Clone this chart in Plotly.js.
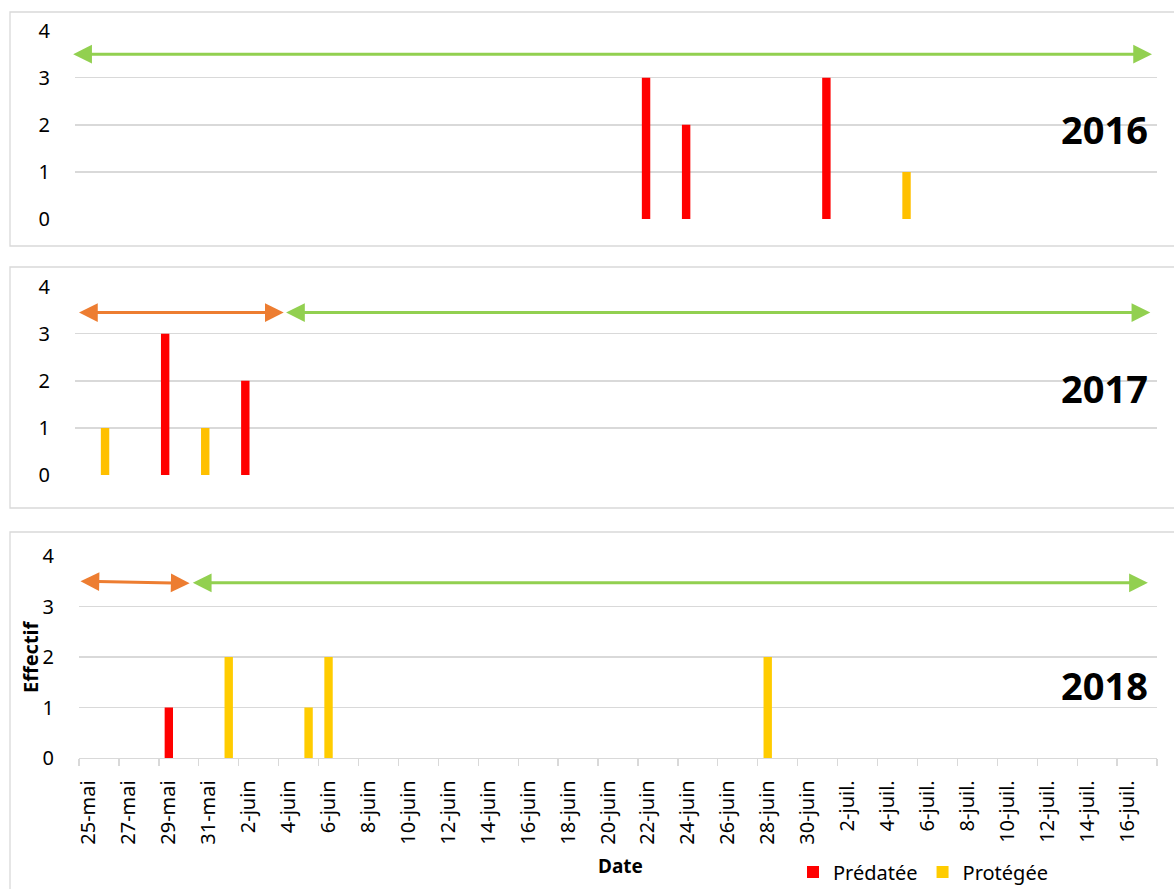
<!DOCTYPE html>
<html><head><meta charset="utf-8">
<script src="https://cdn.plot.ly/plotly-3.0.1.min.js"></script>
<style>html,body{margin:0;padding:0;background:#fff}#chart{width:1174px;height:889px}</style>
</head><body><div id="chart"></div>
<script>
// ---------- data ----------
const years = ['2016','2017','2018'];
const axisStart = ['2016-05-25','2017-05-25','2018-05-25'];
const axisEnd   = ['2016-07-18','2017-07-18','2018-07-18'];

const predDates2016 = ['2016-06-22','2016-06-24','2016-07-01'];
const predVals2016  = [3, 2, 3];
const protDates2016 = ['2016-07-05'];
const protVals2016  = [1];

const predDates2017 = ['2017-05-29','2017-06-02'];
const predVals2017  = [3, 2];
const protDates2017 = ['2017-05-26','2017-05-31'];
const protVals2017  = [1, 1];

const predDates2018 = ['2018-05-29'];
const predVals2018  = [1];
const protDates2018 = ['2018-06-01','2018-06-05','2018-06-06','2018-06-28'];
const protVals2018  = [2, 1, 2, 2];

const seriesNames = ['Prédatée','Protégée'];

// periods shown by the double arrows (phase A = orange, phase B = green)
const periodStarts2016 = ['2016-05-24 20:00'];
const periodEnds2016   = ['2016-07-17 18:00'];
const periodPhases2016 = ['B'];
const periodStarts2017 = ['2017-05-25 03:00','2017-06-04 11:00'];
const periodEnds2017   = ['2017-06-04 10:00','2017-07-17 16:00'];
const periodPhases2017 = ['A','B'];
const periodStarts2018 = ['2018-05-25 00:00','2018-05-30 15:00'];
const periodEnds2018   = ['2018-05-30 13:00','2018-07-17 13:00'];
const periodPhases2018 = ['A','B'];

const tickDates = ['2018-05-25','2018-05-27','2018-05-29','2018-05-31','2018-06-02','2018-06-04',
  '2018-06-06','2018-06-08','2018-06-10','2018-06-12','2018-06-14','2018-06-16','2018-06-18',
  '2018-06-20','2018-06-22','2018-06-24','2018-06-26','2018-06-28','2018-06-30','2018-07-02',
  '2018-07-04','2018-07-06','2018-07-08','2018-07-10','2018-07-12','2018-07-14','2018-07-16'];
const tickLabels = ['25-mai','27-mai','29-mai','31-mai','2-juin','4-juin','6-juin','8-juin',
  '10-juin','12-juin','14-juin','16-juin','18-juin','20-juin','22-juin','24-juin','26-juin',
  '28-juin','30-juin','2-juil.','4-juil.','6-juil.','8-juil.','10-juil.','12-juil.','14-juil.','16-juil.'];

// ---------- styling / layout ----------
const W = 1174, H = 889;
const px = x => x / W;
const py = y => 1 - y / H;
const FONT = 'Noto Sans, Open Sans, sans-serif';
const DAY = 86400000;
const RED = '#FF0000';
const YEL_TOP = '#FFC000';
const YEL_BOT = '#FFCC00';
const GRID = '#D9D9D9';
const phaseColor = {A: '#ED7D31', B: '#92D050'};

function bar(x, y, name, color, xa, ya, showlegend) {
  return {type: 'bar', x: x, y: y, name: name, xaxis: xa, yaxis: ya,
    marker: {color: color}, width: 0.42 * DAY, xperiod: DAY, xperiodalignment: 'middle',
    showlegend: showlegend, legendgroup: name, hoverinfo: 'x+y+name'};
}

const data = [
  bar(predDates2016, predVals2016, seriesNames[0], RED, 'x', 'y', false),
  bar(protDates2016, protVals2016, seriesNames[1], YEL_TOP, 'x', 'y', false),
  bar(predDates2017, predVals2017, seriesNames[0], RED, 'x2', 'y2', false),
  bar(protDates2017, protVals2017, seriesNames[1], YEL_TOP, 'x2', 'y2', false),
  bar(predDates2018, predVals2018, seriesNames[0], RED, 'x3', 'y3', true),
  bar(protDates2018, protVals2018, seriesNames[1], YEL_BOT, 'x3', 'y3', true)
];

function yax(y0, y4) {
  return {domain: [py(y0), py(y4)], range: [0, 4], dtick: 1, tick0: 0,
    showgrid: true, gridcolor: GRID, gridwidth: 1.3, zeroline: false, showline: false,
    ticks: 'outside', ticklen: 20, tickcolor: 'rgba(0,0,0,0)',
    tickfont: {family: FONT, size: 20, color: '#000'}, fixedrange: true};
}
function xaxHidden(i, x0) {
  return {type: 'date', domain: [px(x0), px(1157)], range: [axisStart[i], axisEnd[i]],
    showgrid: false, zeroline: false, showline: false, showticklabels: false, ticks: '',
    fixedrange: true};
}

const annotations = [];
function arrows(starts, ends, phases, xa, ya, lvlStart, lvlEnd) {
  for (let i = 0; i < starts.length; i++) {
    annotations.push({xref: xa, yref: ya, axref: xa, ayref: ya,
      x: ends[i], y: lvlEnd[i], ax: starts[i], ay: lvlStart[i], text: '',
      showarrow: true, arrowside: 'end+start', arrowhead: 2, startarrowhead: 2,
      arrowsize: 1.25, startarrowsize: 1.25, arrowwidth: 3, arrowcolor: phaseColor[phases[i]],
      standoff: 0, startstandoff: 0});
  }
}
arrows(periodStarts2016, periodEnds2016, periodPhases2016, 'x', 'y', [3.5], [3.5]);
arrows(periodStarts2017, periodEnds2017, periodPhases2017, 'x2', 'y2', [3.45, 3.45], [3.45, 3.45]);
arrows(periodStarts2018, periodEnds2018, periodPhases2018, 'x3', 'y3', [3.5, 3.47], [3.46, 3.47]);

const yearPos = [129, 388, 685];
years.forEach((yr, i) => annotations.push({xref: 'paper', yref: 'paper', x: px(1150), y: py(yearPos[i]),
  xanchor: 'right', yanchor: 'middle', text: '<b>' + yr + '</b>', showarrow: false,
  font: {family: FONT, size: 38, color: '#000'}}));

annotations.push({xref: 'paper', yref: 'paper', x: px(30), y: py(657), xanchor: 'center', yanchor: 'middle',
  text: '<b>Effectif</b>', textangle: -90, showarrow: false, font: {family: FONT, size: 20, color: '#000'}});
annotations.push({xref: 'paper', yref: 'paper', x: px(620), y: py(866), xanchor: 'center', yanchor: 'middle',
  text: '<b>Date</b>', showarrow: false, font: {family: FONT, size: 19, color: '#000'}});

const boxes = [[12, 246], [267, 508], [532, 900]];
const shapes = boxes.map(b => ({type: 'rect', xref: 'paper', yref: 'paper',
  x0: px(10), x1: px(1190), y0: py(b[1]), y1: py(b[0]),
  line: {color: GRID, width: 1.3}, fillcolor: 'rgba(0,0,0,0)', layer: 'below'}));

const layout = {
  width: W, height: H, margin: {l: 0, r: 0, t: 0, b: 0, autoexpand: false},
  paper_bgcolor: '#fff', plot_bgcolor: 'rgba(0,0,0,0)',
  font: {family: FONT, color: '#000'},
  barmode: 'overlay',
  xaxis: xaxHidden(0, 75), yaxis: Object.assign(yax(219, 30.7), {anchor: 'x'}),
  xaxis2: Object.assign(xaxHidden(1, 75), {anchor: 'y2'}), yaxis2: Object.assign(yax(475, 286.7), {anchor: 'x2'}),
  xaxis3: {type: 'date', anchor: 'y3', domain: [px(79), px(1157)], range: [axisStart[2], axisEnd[2]],
    showgrid: false, zeroline: false, showline: true, linecolor: GRID, linewidth: 1.3,
    tickmode: 'array', tickvals: tickDates.map(d => d + ' 12:00'), ticktext: tickLabels,
    tickangle: -90, ticks: 'outside', ticklen: 13, tickcolor: 'rgba(0,0,0,0)',
    tickfont: {family: FONT, size: 20, color: '#000'},
    minor: {tickmode: 'linear', tick0: axisStart[2], dtick: 2 * DAY, ticks: 'outside', ticklen: 7,
      tickcolor: GRID, tickwidth: 1.3, showgrid: false},
    fixedrange: true},
  yaxis3: Object.assign(yax(758, 556), {anchor: 'x3'}),
  showlegend: true,
  legend: {orientation: 'h', x: px(793), y: py(872), xanchor: 'left', yanchor: 'middle',
    font: {family: FONT, size: 20, color: '#000'}, bgcolor: 'rgba(0,0,0,0)', traceorder: 'normal'},
  annotations: annotations,
  shapes: shapes
};

Plotly.newPlot('chart', data, layout, {displayModeBar: false, staticPlot: true});
</script>
</body></html>
